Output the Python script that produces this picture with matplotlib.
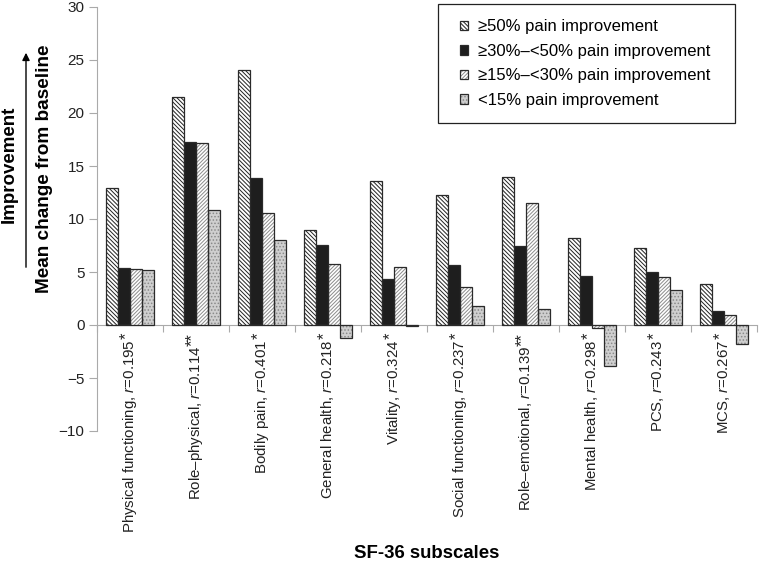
import matplotlib.pyplot as plt
import numpy as np
from matplotlib.patches import Patch, FancyArrowPatch, Rectangle
from matplotlib.legend_handler import HandlerTuple
import matplotlib.transforms as mtransforms

plt.rcParams['font.family'] = ['Liberation Sans', 'DejaVu Sans']
plt.rcParams['mathtext.fontset'] = 'custom'
plt.rcParams['mathtext.rm'] = 'Liberation Sans'
plt.rcParams['mathtext.it'] = 'Liberation Sans:italic'
plt.rcParams['hatch.linewidth'] = 0.7

subscales = ["Physical functioning", "Role\u2013physical", "Bodily pain", "General health",
             "Vitality", "Social functioning", "Role\u2013emotional", "Mental health",
             "PCS", "MCS"]
r_values = ["0.195", "0.114", "0.401", "0.218", "0.324", "0.237", "0.139", "0.298",
            "0.243", "0.267"]
stars = ["*", "**", "*", "*", "*", "*", "**", "*", "*", "*"]

series_names = ["\u226550% pain improvement", "\u226530%\u2013<50% pain improvement",
                "\u226515%\u2013<30% pain improvement", "<15% pain improvement"]
ge50 = [12.9, 21.5, 24.1, 9.0, 13.6, 12.3, 14.0, 8.25, 7.3, 3.9]
ge30 = [5.4, 17.3, 13.9, 7.55, 4.3, 5.7, 7.5, 4.6, 5.0, 1.3]
ge15 = [5.3, 17.15, 10.6, 5.8, 5.5, 3.6, 11.5, -0.3, 4.5, 0.95]
lt15 = [5.2, 10.85, 8.0, -1.2, -0.1, 1.8, 1.5, -3.9, 3.3, -1.8]

styles = [
    dict(facecolor='white', hatch='\\' * 8, hcolor='#222222'),
    dict(facecolor='#1e1e1e', hatch=None, hcolor='#1e1e1e'),
    dict(facecolor='white', hatch='/' * 9, hcolor='#8c8c8c'),
    dict(facecolor='#cfcfcf', hatch='.....', hcolor='#8a8a8a'),
]

fig = plt.figure(figsize=(7.59, 5.61), dpi=100)
ax = fig.add_axes([97 / 759, (561 - 431) / 561, 660 / 759, 424 / 561])

x = np.arange(len(subscales))
w = 0.185
handles = []
for k, (vals, st) in enumerate(zip([ge50, ge30, ge15, lt15], styles)):
    xs = x + (k - 1.5) * w
    ax.bar(xs, vals, w, color=st['facecolor'], hatch=st['hatch'],
           edgecolor=st['hcolor'], linewidth=0, zorder=2)
    ax.bar(xs, vals, w, fill=False, edgecolor='#2a2a2a', linewidth=0.9, zorder=3)
    p1 = Patch(facecolor=st['facecolor'], hatch=st['hatch'], edgecolor=st['hcolor'], linewidth=0)
    p2 = Patch(fill=False, edgecolor='#2a2a2a', linewidth=0.9)
    handles.append((p1, p2))

ax.set_xlim(-0.5, len(subscales) - 0.5)
ax.set_ylim(-10, 30)
ax.set_yticks(np.arange(-10, 31, 5))
ax.tick_params(axis='y', labelsize=11, length=6, pad=3, color='#aaaaaa',
               labelcolor='#222222')
for s in ['top', 'right']:
    ax.spines[s].set_visible(False)
ax.spines['left'].set_color('#aaaaaa')
ax.spines['bottom'].set_position(('data', 0))
ax.spines['bottom'].set_color('#aaaaaa')
ax.set_xticks(np.arange(-0.5, len(subscales), 1.0))
ax.set_xticklabels([])
ax.tick_params(axis='x', direction='out', length=5, color='#aaaaaa')

trans = mtransforms.blended_transform_factory(ax.transData, fig.transFigure)
label_size = 10.8
star_px = 0.389 * label_size * 100 / 72
for i, (name, r, st) in enumerate(zip(subscales, r_values, stars)):
    star_tr = mtransforms.offset_copy(trans, fig=fig, x=-3.5, y=0, units='dots')
    ax.text(i, (561 - 333) / 561, st, transform=star_tr, rotation=90,
            ha='center', va='top', fontsize=label_size + 1, color='#222222')
    main_tr = mtransforms.offset_copy(trans, fig=fig, x=0,
                                      y=-(len(st) * star_px + 1.0), units='dots')
    ax.text(i, (561 - 333) / 561, name + ", $\\it{r}$=" + r, transform=main_tr,
            rotation=90, ha='center', va='top', fontsize=label_size, color='#222222')

fig.text(45 / 759, 1 - 169 / 561, "Mean change from baseline", rotation=90,
         ha='center', va='center', fontsize=13.7, fontweight='bold')
fig.text(9 / 759, 1 - 164 / 561, "Improvement", rotation=90,
         ha='center', va='center', fontsize=13.5, fontweight='bold')
fig.add_artist(FancyArrowPatch(
    (26 / 759, 1 - 270 / 561), (26 / 759, 1 - 50 / 561), transform=fig.transFigure,
    arrowstyle='-|>', mutation_scale=11, color='black', linewidth=1))
fig.text(427 / 759, 1 - 554 / 561, "SF-36 subscales", ha='center', va='center',
         fontsize=13.4, fontweight='bold')

# legend box drawn separately so its padding matches the original
fig.add_artist(Rectangle((438 / 759, 1 - 123 / 561), 297 / 759, 119 / 561,
                         transform=fig.transFigure, fill=False,
                         edgecolor='#222222', linewidth=0.9))
leg = ax.legend(handles, series_names, handler_map={tuple: HandlerTuple(ndivide=1)},
                loc='center left', bbox_to_anchor=(460 / 759, 1 - 63.5 / 561),
                bbox_transform=fig.transFigure, fontsize=12, handlelength=0.5,
                handleheight=0.5, frameon=False, borderpad=0,
                labelspacing=0.57, handletextpad=0.6, borderaxespad=0)

plt.savefig("out.png", dpi=100)
